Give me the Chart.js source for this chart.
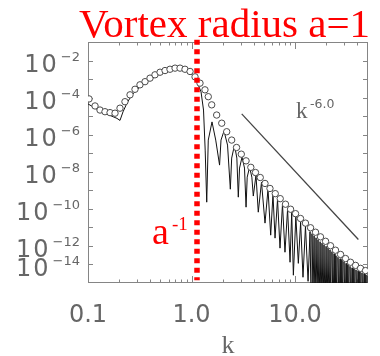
<!DOCTYPE html>
<html>
<head>
<meta charset="utf-8">
<script src="https://cdn.jsdelivr.net/npm/chart.js@4.4.1/dist/chart.umd.min.js"></script>
<style>
  body { margin: 0; background: #fff; }
  canvas { display: block; }
</style>
</head>
<body>
<canvas id="myChart" width="380" height="356"></canvas>
<script>
// values, kept as decade exponents: log10(k) and log10(E)
const circleLogK = [-0.990,-0.932,-0.884,-0.836,-0.787,-0.739,-0.691,-0.643,-0.594,-0.546,
  -0.498,-0.449,-0.401,-0.353,-0.304,-0.256,-0.208,-0.159,-0.111,-0.063,
  -0.014,0.034,0.082,0.130,0.162,0.195,0.243,0.292,0.340,0.388,
  0.435,0.481,0.527,0.573,0.618,0.664,0.710,0.758,0.809,0.857,
  0.908,0.957,1.005,1.053,1.101,1.150,1.198,1.246,1.295,1.343,
  1.391,1.440,1.488,1.536,1.585,1.633,1.681];
const circleLogE = [-4.07,-4.45,-4.67,-4.76,-4.81,-4.84,-4.57,-4.22,-3.85,-3.55,
  -3.31,-3.14,-2.95,-2.77,-2.63,-2.54,-2.47,-2.41,-2.41,-2.47,
  -2.59,-2.88,-3.22,-3.58,-3.95,-4.39,-4.94,-5.38,-5.84,-6.29,
  -6.69,-7.05,-7.41,-7.76,-8.04,-8.31,-8.63,-8.90,-9.18,-9.45,
  -9.75,-10.02,-10.26,-10.52,-10.77,-11.02,-11.26,-11.51,-11.75,-11.99,
  -12.23,-12.46,-12.68,-12.88,-13.05,-13.21,-13.33];

const lineLogK = [-1.000,-0.884,-0.787,-0.720,-0.691,-0.662,-0.623,-0.575,-0.498,-0.401,
  -0.304,-0.208,-0.130,-0.053,0.005,0.053,0.092,0.116,0.132,0.147,
  0.162,0.198,0.234,0.271,0.285,0.314,0.348,0.375,0.388,0.415,
  0.438,0.452,0.464,0.488,0.512,0.527,0.538,0.561,0.583,0.597,
  0.623,0.645,0.676,0.710,0.739,0.765,0.787,0.807,0.831,0.855,
  0.879,0.903,0.928,0.952,0.968,0.984,1.008,1.032,1.054,1.077,
  1.101,1.126,
  1.145,1.155,1.164,1.174,1.184,1.193,1.203,1.213,1.222,1.232,
  1.242,1.251,1.261,1.271,1.280,1.290,1.300,1.309,1.319,1.329,
  1.338,1.348,1.357,1.367,1.377,1.386,1.396,1.406,1.415,1.425,
  1.435,1.444,1.454,1.464,1.473,1.483,1.493,1.502,1.512,1.522,
  1.531,1.541,1.551,1.560,1.570,1.580,1.589,1.599,1.609,1.618,
  1.628,1.638,1.647,1.657,1.667,1.676,1.686,1.696,1.705];
const lineLogE = [-4.34,-4.72,-4.96,-5.12,-5.23,-4.77,-4.29,-3.85,-3.42,-3.04,
  -2.72,-2.53,-2.48,-2.56,-2.77,-3.15,-3.69,-4.67,-6.83,-9.64,
  -6.29,-5.31,-6.29,-7.64,-6.29,-5.80,-6.56,-8.94,-7.26,-6.56,
  -7.26,-9.37,-7.80,-7.21,-7.80,-9.91,-8.29,-7.75,-8.29,-9.31,
  -8.18,-10.18,-8.56,-10.77,-8.94,-11.42,-9.21,-11.58,-9.48,-12.12,
  -9.75,-12.34,-10.02,-12.88,-10.18,-13.58,-10.40,-12.94,-10.72,-13.69,
  -10.94,-13.91,
  -11.23,-15.2,-11.34,-14.6,-11.45,-15.5,-11.56,-15.0,-11.66,-15.5,
  -11.77,-15.5,-11.85,-15.5,-11.94,-15.5,-12.02,-15.5,-12.10,-15.5,
  -12.21,-15.5,-12.31,-15.5,-12.42,-15.5,-12.53,-15.5,-12.61,-15.5,
  -12.69,-15.5,-12.77,-15.5,-12.85,-15.5,-12.94,-15.5,-13.02,-15.5,
  -13.10,-15.5,-13.18,-15.5,-13.23,-15.5,-13.29,-15.5,-13.34,-15.5,
  -13.39,-15.5,-13.45,-15.5,-13.50,-15.5,-13.56,-15.5,-13.61];

// k^-6 guide line and the a^-1 marker
const slopeLogK = [0.485, 1.612];
const slopeLogE = [-4.88, -11.65];
const markerK = 1.13;
const markerLogE = [-0.88, -13.85];

const xTickLabels = ['0.1', '1.0', '10.0'];
const xTickVals = [0.1, 1, 10];
const yLabelExps = [-2, -4, -6, -8, -10, -12, -13];
const yLabelTexts = ['\u22122', '\u22124', '\u22126', '\u22128', '\u221210', '\u221212', '\u221214'];

const pts = (lk, le) => lk.map((v, i) => ({ x: Math.pow(10, v), y: Math.pow(10, le[i]) }));

const frameColor = '#858585';
const labelColor = '#666666';

const decorations = {
  id: 'decorations',
  beforeDatasetsDraw(chart) {
    const ctx = chart.ctx, a = chart.chartArea;
    const xs = chart.scales.x, ys = chart.scales.y;
    ctx.save();
    ctx.strokeStyle = frameColor;
    ctx.lineWidth = 1;
    ctx.strokeRect(Math.round(a.left) + 0.5, Math.round(a.top) + 0.5,
      Math.round(a.right - a.left) - 1, Math.round(a.bottom - a.top) - 1);
    ctx.beginPath();
    for (let d = 0.1; d < 100; d *= 10) {
      for (let m = 1; m < 10; m++) {
        const v = d * m;
        if (v > xs.max) break;
        const px = Math.round(xs.getPixelForValue(v)) + 0.5;
        const len = m === 1 ? 7 : 3.5;
        ctx.moveTo(px, a.bottom); ctx.lineTo(px, a.bottom - len);
        ctx.moveTo(px, a.top); ctx.lineTo(px, a.top + len);
      }
    }
    for (let e = -13; e <= -2; e++) {
      const py = Math.round(ys.getPixelForValue(Math.pow(10, e))) + 0.5;
      ctx.moveTo(a.left, py); ctx.lineTo(a.left + 5, py);
      ctx.moveTo(a.right, py); ctx.lineTo(a.right - 5, py);
    }
    ctx.stroke();
    ctx.restore();
  },
  afterDraw(chart) {
    const ctx = chart.ctx, a = chart.chartArea;
    const xs = chart.scales.x, ys = chart.scales.y;
    ctx.save();
    ctx.fillStyle = labelColor;
    ctx.textBaseline = 'alphabetic';
    // y labels 10^n
    yLabelExps.forEach((e, i) => {
      const py = ys.getPixelForValue(Math.pow(10, e));
      ctx.textAlign = 'left';
      ctx.font = '13px "DejaVu Sans"';
      const ew = ctx.measureText(yLabelTexts[i]).width;
      ctx.fillText(yLabelTexts[i], 80 - ew, py + 0.5);
      ctx.font = '24px "DejaVu Sans"';
      ctx.letterSpacing = '2px';
      const tw = ctx.measureText('10').width;
      ctx.fillText('10', 80 - ew - 2 - tw, py + 11.5);
      ctx.letterSpacing = '0px';
    });
    // x labels
    ctx.font = '24px "DejaVu Sans"';
    ctx.textAlign = 'center';
    xTickVals.forEach((v, i) => {
      ctx.fillText(xTickLabels[i], xs.getPixelForValue(v), 322);
    });
    ctx.font = '26px "Liberation Serif"';
    ctx.fillText('k', (a.left + a.right) / 2, 353);
    // slope label
    ctx.textAlign = 'left';
    ctx.font = '23px "Liberation Serif"';
    ctx.fillText('k', 296, 118);
    ctx.font = '12.5px "DejaVu Sans"';
    ctx.fillText('-6.0', 310, 107.5);
    // red annotations
    ctx.fillStyle = '#ff0000';
    ctx.font = '41px "Liberation Serif"';
    ctx.fillText('Vortex radius a=1', 79, 37);
    ctx.font = '38px "Liberation Serif"';
    ctx.fillText('a', 152, 243.5);
    ctx.font = '19px "Liberation Serif"';
    ctx.fillText('-1', 172, 230);
    ctx.restore();
  }
};

const ctx = document.getElementById('myChart').getContext('2d');
const spectrumChart = new Chart(ctx, {
  type: 'line',
  data: {
    datasets: [
      {
        label: 'a^-1',
        data: pts([Math.log10(markerK), Math.log10(markerK)], markerLogE),
        borderColor: '#ff0000',
        borderWidth: 5.5,
        borderDash: [5, 4.5],
        borderCapStyle: 'butt',
        pointRadius: 0,
        clip: false
      },
      {
        label: 'binned',
        data: pts(circleLogK, circleLogE),
        showLine: false,
        pointStyle: 'circle',
        pointRadius: 3.2,
        pointBorderWidth: 1,
        pointBorderColor: '#4a4a4a',
        pointBackgroundColor: '#ffffff'
      },
      {
        label: 'spectrum',
        data: pts(lineLogK, lineLogE),
        borderColor: '#111111',
        borderWidth: 1,
        pointRadius: 0,
        tension: 0
      },
      {
        label: 'k^-6',
        data: pts(slopeLogK, slopeLogE),
        borderColor: '#444444',
        borderWidth: 1.3,
        pointRadius: 0
      }
    ]
  },
  options: {
    responsive: false,
    animation: false,
    devicePixelRatio: 1,
    layout: { padding: { left: 88, right: 12, top: 42, bottom: 73 } },
    scales: {
      x: { type: 'logarithmic', min: 0.1, max: 50.7, display: false },
      y: { type: 'logarithmic', min: 1e-14, max: 1e-1, display: false }
    },
    plugins: {
      legend: { display: false },
      tooltip: { enabled: false }
    }
  },
  plugins: [decorations]
});
</script>
</body>
</html>
